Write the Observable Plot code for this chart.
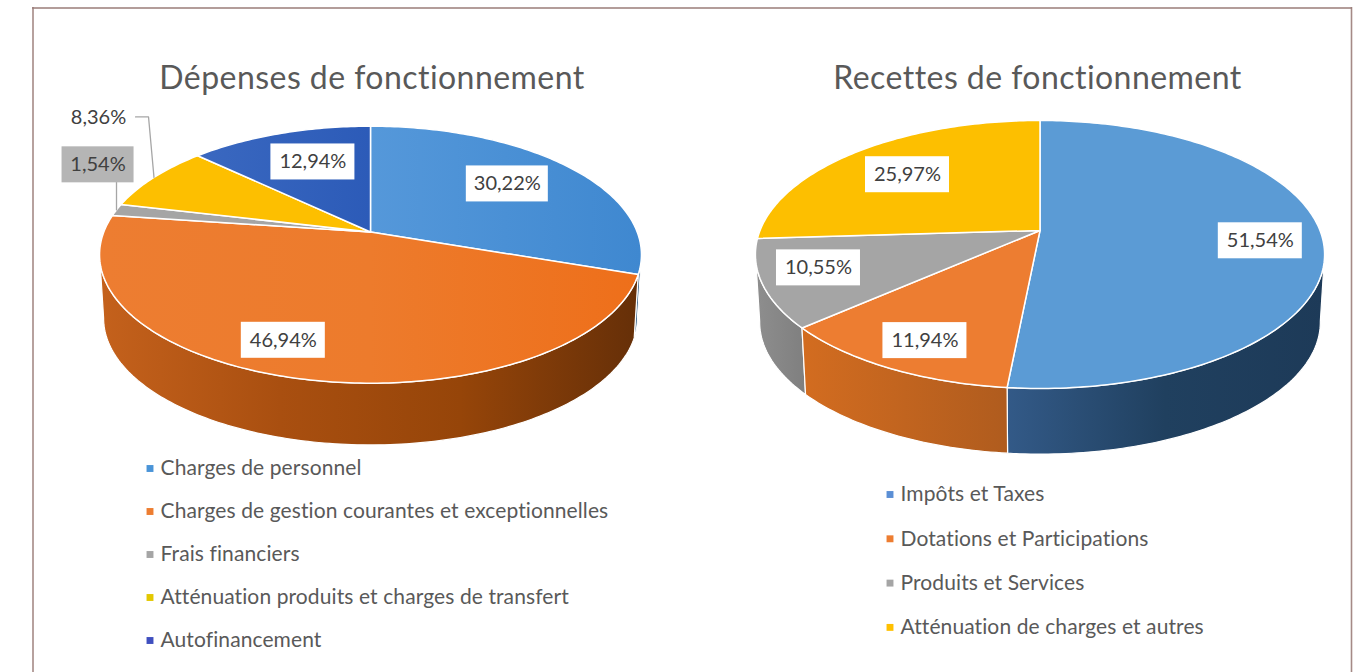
<!DOCTYPE html>
<html lang="fr">
<head>
<meta charset="utf-8">
<title>Dépenses et recettes de fonctionnement</title>
<script src="https://cdn.jsdelivr.net/npm/d3@7"></script>
<script src="https://cdn.jsdelivr.net/npm/@observablehq/plot@0.6"></script>
<style>
html,body{margin:0;padding:0;background:#fff;overflow:hidden}
svg{display:block}
</style>
</head>
<body>
<div id="chart"></div>
<script>
// ---- data ----
const depensesTitle = "Dépenses de fonctionnement";
const depensesCategories = ["Charges de personnel","Charges de gestion courantes et exceptionnelles","Frais financiers","Atténuation produits et charges de transfert","Autofinancement"];
const depensesValues = [30.22,46.94,1.54,8.36,12.94];
const recettesTitle = "Recettes de fonctionnement";
const recettesCategories = ["Impôts et Taxes","Dotations et Participations","Produits et Services","Atténuation de charges et autres"];
const recettesValues = [51.54,11.94,10.55,25.97];

// ---- layout and style ----
const ink = "#595959", font = "Lato";
const FRONT = 100; // first wall angle, degrees from twelve o'clock
const pies = [
  {title: depensesTitle, cats: depensesCategories, vals: depensesValues,
   cx: 370, cy: 231.5, R: 266.7, Ry: 124.5, k: .1765, drop: 64, titleX: 371.5,
   tops: ["url(#lb)","url(#lo)","#a5a5a5","#fdbf00","url(#ld)"],
   walls: ["#1f4e79","url(#wo)","#7c7c7c","#bf9000","#264478"],
   legend: {x: 149.5, y: 468, step: 43, colors: ["#4a94d8","#ed7d31","#a5a5a5","#e3c800","#3f4fbf"]},
   nudge: [[-1,-2],[-40,15],[-98,-52],[-121,-76],[7,0]],
   boxW: [82,84,72,0,84],
   boxFill: ["#fff","#fff","#b5b5b5",null,"#fff"],
   leaders: [{i:2, from:[17,17], elbow:null},{i:3, from:[37,-1], elbow:[50,-1]}]},
  {title: recettesTitle, cats: recettesCategories, vals: recettesValues,
   cx: 1039.5, cy: 230, R: 280, Ry: 129.7, k: .179, drop: 68, titleX: 1037,
   tops: ["#5b9bd5","#ed7d31","#a5a5a5","#fdbf00"],
   walls: ["url(#wb)","url(#wr)","url(#wg)","#bf9000"],
   legend: {x: 889.5, y: 494, step: 44.3, colors: ["#5b8fd5","#ed7d31","#a5a5a5","#ffc000"]},
   nudge: [[29,6],[-18,22],[-37,2],[-4.5,0]],
   boxW: [84,84,84,84],
   boxFill: ["#fff","#fff","#fff","#fff"],
   leaders: []}
];
const gradients = [
  {id:"lb", x1:370, x2:640, stops:["#5598da","#3f88d0"]},
  {id:"lo", x1:100, x2:640, stops:["#ed7d31","#ed7b2c","#ee6f1a"]},
  {id:"ld", x1:200, x2:370, stops:["#3a68c0","#2c5bb8"]},
  {id:"wo", x1:100, x2:640, stops:["#c4611c","#a94f10","#964509","#652f08"]},
  {id:"wb", x1:1005, x2:1324, stops:["#335a88","#20405f","#1d3a58"]},
  {id:"wr", x1:805, x2:1005, stops:["#d26c20","#b05c1e"]},
  {id:"wg", x1:755, x2:805, stops:["#8e8e8e","#7f7f7f"]}
];

// ---- geometry: each point comes from a share of the pie ----
const rad = d => d * Math.PI / 180;
function project(p, deg, f = 1, lower = false) {
  const s = lower ? .985 : 1, dy = lower ? p.drop : 0;
  const X = f * Math.sin(rad(deg)), Y = f * Math.cos(rad(deg)), w = 1 + p.k * Y;
  return {x: p.cx + s * p.R * X / w, y: p.cy + dy - s * p.Ry * Y / w};
}
function arc(p, a0, a1, lower) {
  const n = Math.max(2, Math.ceil(Math.abs(a1 - a0))), out = [];
  for (let i = 0; i <= n; i++) out.push(project(p, a0 + (a1 - a0) * i / n, 1, lower));
  return out;
}
const marks = [];
// frame
marks.push(Plot.ruleX([32.5,1351], {y1:7, y2:672, stroke:"#a58a86", strokeWidth:1.6}));
marks.push(Plot.ruleY([7.5], {x1:32, x2:1352, stroke:"#9a7d79", strokeWidth:1.6}));

for (const p of pies) {
  const sum = d3.cumsum(p.vals);
  const spans = p.vals.map((v, i) => [(sum[i] - v) * 3.6, sum[i] * 3.6]);
  // walls, from the sides to the front
  spans.map((s, i) => ({s, i}))
    .sort((a, b) => Math.abs((b.s[0]+b.s[1])/2 - 180) - Math.abs((a.s[0]+a.s[1])/2 - 180))
    .forEach(({s, i}) => {
      const a0 = Math.max(s[0], FRONT), a1 = Math.min(s[1], 360 - FRONT);
      if (a1 <= a0) return;
      const pts = [...arc(p, a0, a1, false), ...arc(p, a1, a0, true)];
      pts.push(pts[0]);
      marks.push(Plot.line(pts, {x:"x", y:"y", fill:p.walls[i], stroke:"#fff", strokeWidth:1.2}));
    });
  // top faces
  spans.forEach((s, i) => {
    const c = project(p, 0, 0);
    const pts = [c, ...arc(p, s[0], s[1], false), c];
    marks.push(Plot.line(pts, {x:"x", y:"y", fill:p.tops[i], stroke:"#fff", strokeWidth:1.5}));
  });
  // labels
  const labels = p.vals.map((v, i) => {
    const m = project(p, (spans[i][0] + spans[i][1]) / 2, .68);
    return {x: m.x + p.nudge[i][0], y: m.y + p.nudge[i][1], w: p.boxW[i], fill: p.boxFill[i],
            text: v.toFixed(2).replace(".", ",") + "%"};
  });
  // leader lines
  for (const l of p.leaders) {
    const a = labels[l.i], end = project(p, (spans[l.i][0] + spans[l.i][1]) / 2, 1);
    const pts = l.elbow
      ? [{x:a.x+l.from[0], y:a.y+l.from[1]}, {x:a.x+l.elbow[0], y:a.y+l.elbow[1]}, end]
      : [{x:end.x, y:a.y+l.from[1]}, end];
    marks.push(Plot.line(pts, {x:"x", y:"y", stroke:"#a6a6a6", strokeWidth:1.3}));
  }
  for (const b of labels.filter(d => d.fill)) {
    marks.push(Plot.rect([b], {x1:d=>d.x-d.w/2, x2:d=>d.x+d.w/2, y1:d=>d.y-18, y2:d=>d.y+18, fill:b.fill}));
  }
  marks.push(Plot.text(labels, {x:"x", y:"y", text:"text", fill:"#404040", fontFamily:font, fontSize:20, lineAnchor:"middle"}));
  // title
  marks.push(Plot.text([p.title], {x:p.titleX, y:78, text:d=>d, fill:ink, fontFamily:font, fontSize:32, lineAnchor:"middle", textAnchor:"middle"}));
  // legend
  const leg = p.cats.map((c, i) => ({c, i, x:p.legend.x, y:p.legend.y + i * p.legend.step, col:p.legend.colors[i]}));
  marks.push(Plot.dot(leg, {x:"x", y:"y", symbol:"square", r:3.9, fill:d=>d.col, stroke:"none"}));
  marks.push(Plot.text(leg, {x:d=>d.x+10.5, y:"y", text:"c", fill:ink, fontFamily:font, fontSize:21, textAnchor:"start", lineAnchor:"middle"}));
}

const svg = Plot.plot({
  width:1363, height:672, margin:0,
  style:{background:"#fff"},
  x:{domain:[0,1363], range:[0,1363], axis:null},
  y:{domain:[0,672], range:[0,672], axis:null},
  color:{type:"identity"},
  marks
});
const defs = d3.select(svg).insert("defs", ":first-child");
for (const g of gradients) {
  const lg = defs.append("linearGradient").attr("id", g.id).attr("gradientUnits","userSpaceOnUse")
    .attr("x1", g.x1).attr("x2", g.x2).attr("y1", 0).attr("y2", 0);
  g.stops.forEach((c, i) => lg.append("stop").attr("offset", i / (g.stops.length - 1)).attr("stop-color", c));
}
// the reference's type is slightly tracked
d3.select(svg).selectAll("text").each(function() {
  const t = this.textContent;
  if (t === depensesTitle || t === recettesTitle) this.style.letterSpacing = "0.45px";
  else if (depensesCategories.includes(t) || recettesCategories.includes(t)) this.style.letterSpacing = "0.1px";
});
document.getElementById("chart").append(svg);
</script>
</body>
</html>
